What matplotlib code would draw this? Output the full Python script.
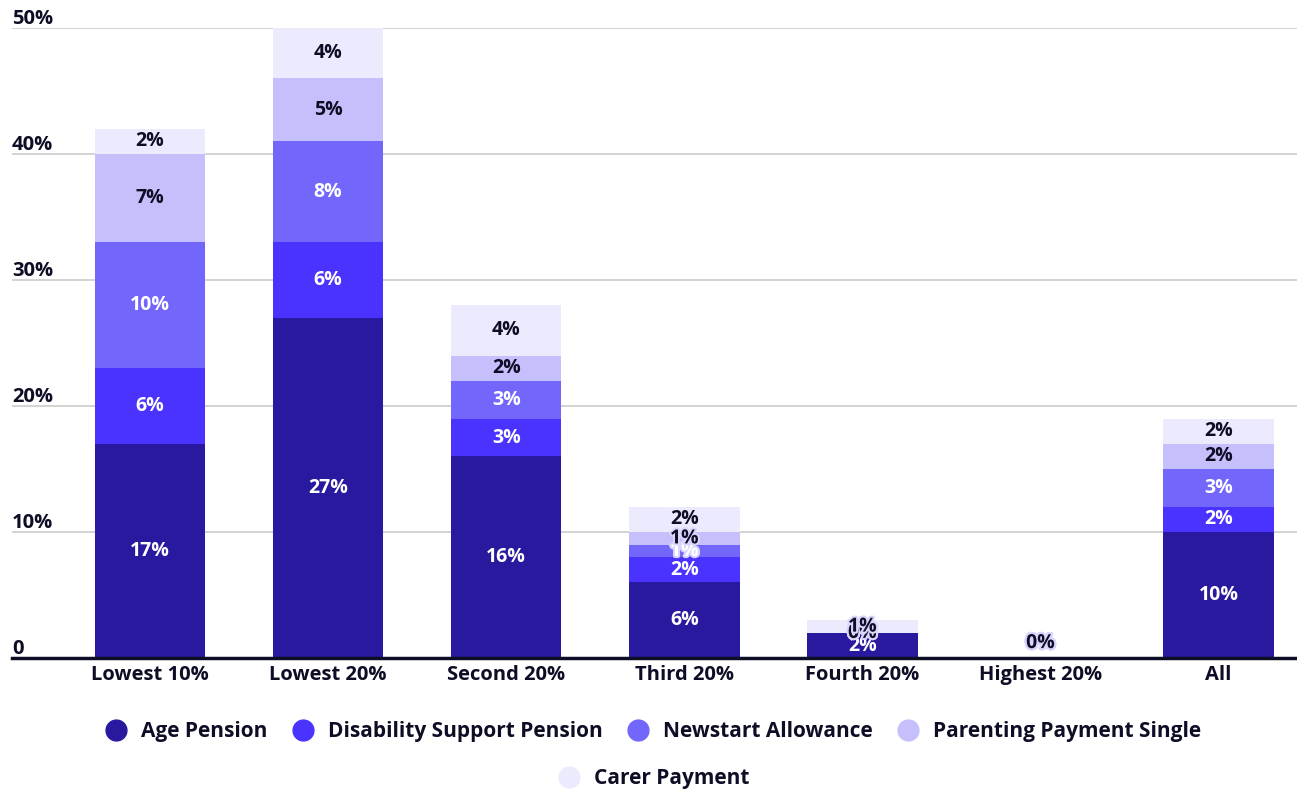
import numpy as np
import matplotlib.pyplot as plt
import matplotlib.patheffects as pe
from matplotlib.lines import Line2D

categories = ['Lowest 10%', 'Lowest 20%', 'Second 20%', 'Third 20%',
              'Fourth 20%', 'Highest 20%', 'All']
series = ['Age Pension', 'Disability Support Pension', 'Newstart Allowance',
          'Parenting Payment Single', 'Carer Payment']
age_pension = [17, 27, 16, 6, 2, 0, 10]
disability = [6, 6, 3, 2, 0, 0, 2]
newstart = [10, 8, 3, 1, 0, 0, 3]
parenting = [7, 5, 2, 1, 0, 0, 2]
carer = [2, 4, 4, 2, 1, 0, 2]
yticks = [0, 10, 20, 30, 40, 50]

values = [age_pension, disability, newstart, parenting, carer]
colors = ['#28199e', '#4a33fe', '#7367fb', '#c5c0fb', '#ecebfd']
label_colors = ['white', 'white', 'white', '#0d0d25', '#0d0d25']
dark = '#0d0d25'
font = 'Open Sans'

plt.rcParams['font.family'] = [font, 'DejaVu Sans']
plt.rcParams['font.weight'] = 'bold'

fig = plt.figure(figsize=(12.97, 7.91), dpi=100)
ax = fig.add_axes([0.00925, 0.168, 0.99075, 0.7966])

x = np.arange(len(categories))
bottom = np.zeros(len(categories))
for vals, col, lcol in zip(values, colors, label_colors):
    vals = np.array(vals, dtype=float)
    ax.bar(x, vals, bottom=bottom, width=0.62, color=col, zorder=2)
    for xi, v, b in zip(x, vals, bottom):
        cy = b + v / 2
        effects = None
        if v <= 1:
            effects = [pe.withStroke(linewidth=3, foreground='#d9d5fc')]
        va = 'center'
        if cy < 0.5:
            va = 'bottom'
            cy = 0.4
        ax.text(xi, cy, f'{int(v)}%', ha='center', va=va, color=lcol,
                fontsize=14, fontweight='bold', zorder=3, path_effects=effects)
    bottom += vals

ax.set_xlim(-0.775, 6.44)
ax.set_ylim(0, 50)
ax.set_yticks(yticks)
ax.yaxis.grid(True, color='#cccccc', linewidth=1.2, zorder=0)
ax.tick_params(axis='y', length=0, labelleft=False)
for t in yticks:
    lab = '0' if t == 0 else f'{t}%'
    ax.text(0, t + 0.3, lab, transform=ax.get_yaxis_transform(),
            ha='left', va='baseline', fontsize=14.5, fontweight='bold',
            color=dark)

ax.set_xticks(x)
ax.set_xticklabels(categories, fontsize=14.5, fontweight='bold', color=dark)
ax.tick_params(axis='x', length=0, pad=5)
for s in ['top', 'right', 'left']:
    ax.spines[s].set_visible(False)
ax.spines['bottom'].set_color(dark)
ax.spines['bottom'].set_linewidth(2.5)
ax.spines['bottom'].set_zorder(4)

handles = [Line2D([], [], marker='o', linestyle='', markersize=15,
                  markerfacecolor=c, markeredgecolor=c) for c in colors]
leg1 = fig.legend(handles[:4], series[:4], loc='center', ncol=4,
                  bbox_to_anchor=(0.5, 0.075), frameon=False,
                  prop={'size': 15, 'weight': 'bold'}, handletextpad=0.2,
                  columnspacing=0.7)
for t in leg1.get_texts():
    t.set_color(dark)
leg2 = fig.legend(handles[4:], series[4:], loc='center', ncol=1,
                  bbox_to_anchor=(0.5, 0.016), frameon=False,
                  prop={'size': 15, 'weight': 'bold'}, handletextpad=0.2)
for t in leg2.get_texts():
    t.set_color(dark)

fig.savefig('out.png', dpi=100)
